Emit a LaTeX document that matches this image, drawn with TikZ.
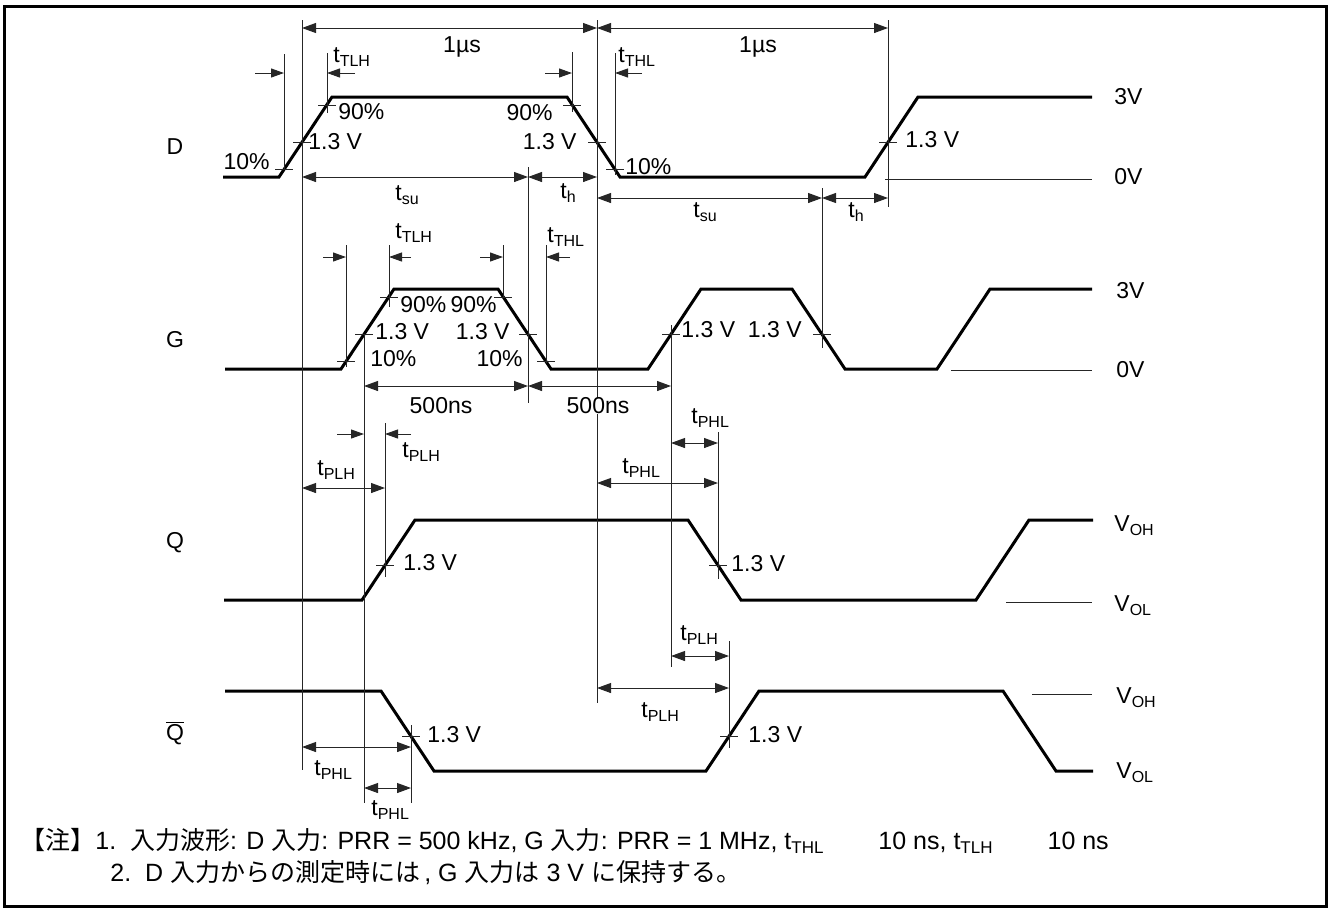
\documentclass[tikz,border=0pt]{standalone}
\usepackage{fontspec}
\setmainfont{Liberation Sans}
\newfontfamily\jp{Noto Sans CJK JP}
\usetikzlibrary{arrows.meta}
\newcommand\sbs[1]{\raisebox{-2.4pt}{\fontsize{8}{9}\selectfont #1}}
\newcommand\nsbs[1]{\raisebox{-2.4pt}{\fontsize{8.5}{9}\selectfont #1}}
\begin{document}
\begin{tikzpicture}[x=0.5pt,y=-0.5pt,
  wave/.style={line width=1.5pt,line join=miter},
  thinl/.style={line width=0.5pt,black!85},
  dimarr/.style={thinl,{Triangle[length=7pt,width=5pt]}-{Triangle[length=7pt,width=5pt]}},
  ptr/.style={thinl,-{Triangle[length=6.5pt,width=4.5pt]}},
  lbl/.style={inner sep=0pt,font=\fontsize{11.5}{13.8}\selectfont},
  note/.style={inner sep=0pt,font=\fontsize{12.5}{15}\selectfont}]
\useasboundingbox (0,0) rectangle (1331,912);
\draw[line width=1.5pt] (4.5,6) rectangle (1326.5,906);

% ---------------- waveforms
\draw[wave] (223,177) -- (279,177) -- (332,97) -- (567,97) -- (620,177) -- (865,177) -- (918,97) -- (1092,97);
\draw[wave] (225,369) -- (341,369) -- (394,289) -- (498,289) -- (551,369) -- (648,369) -- (701,289) -- (792,289) -- (845,369) -- (937,369) -- (990,289) -- (1092,289);
\draw[wave] (224,600) -- (362,600) -- (415,520) -- (688,520) -- (741,600) -- (976,600) -- (1029,520) -- (1093,520);
\draw[wave] (225,691) -- (381,691) -- (434,771) -- (706,771) -- (759,691) -- (1003,691) -- (1056,771) -- (1093,771);

% ---------------- level lines
\draw[thinl] (885,179) -- (1092,179);
\draw[thinl] (951,370) -- (1092,370);
\draw[thinl] (1006,602) -- (1092,602);
\draw[thinl] (1032,694) -- (1092,694);

% ---------------- ticks
\foreach \x/\y in {284/169,302/142,327/105,572/105,597/142,615/169,888/142,
                   346/361,364/334,389/297,503/297,528/334,546/361,671/334,822/334,
                   385/565,718/565,411/736,729/736}
  \draw[thinl] (\x-9,\y) -- (\x+9,\y);

% ---------------- vertical reference lines
\foreach \x/\a/\b in {284/54/169,327/53/113,572/52/112,615/53/175,302/20/770,597/20/703,
                      888/20/207,528/167/403,822/188/348,346/245/367,389/245/307,503/245/298,
                      546/245/363,364/334/803,671/325/667,385/423/577,718/432/579,
                      411/725/803,729/641/748}
  \draw[thinl] (\x,\a) -- (\x,\b);

% ---------------- dimension arrows
\draw[dimarr] (302,28) -- (597,28);
\draw[dimarr] (597,28) -- (888,28);
\draw[dimarr] (302,177) -- (528,177);
\draw[dimarr] (528,177) -- (597,177);
\draw[dimarr] (597,198) -- (822,198);
\draw[dimarr] (822,198) -- (888,198);
\draw[dimarr] (364,386) -- (528,386);
\draw[dimarr] (528,386) -- (671,386);
\draw[dimarr] (302,488) -- (385,488);
\draw[dimarr] (597,483) -- (718,483);
\draw[dimarr] (671,443) -- (718,443);
\draw[dimarr] (597,688) -- (729,688);
\draw[dimarr] (671,656) -- (729,656);
\draw[dimarr] (302,747) -- (411,747);
\draw[dimarr] (364,788) -- (411,788);

% ---------------- pointers
\draw[ptr] (255,73) -- (284,73);
\draw[ptr] (355,73) -- (327,73);
\draw[ptr] (545,73) -- (572,73);
\draw[ptr] (642,73) -- (615,73);
\draw[ptr] (323,257) -- (346,257);
\draw[ptr] (411,257) -- (389,257);
\draw[ptr] (480,257) -- (503,257);
\draw[ptr] (570,257) -- (546,257);
\draw[ptr] (337,434) -- (364,434);
\draw[ptr] (411,434) -- (385,434);

% ---------------- row names
\node[lbl] (nD) at (175,147) {D};
\node[lbl] (nG) at (175,340) {G};
\node[lbl] (nQ) at (175,543) {Q};
\node[lbl] (nQb) at (175,733) {$\overline{\mbox{Q}}$};

% ---------------- D labels
\node[lbl,anchor=east] (d1) at (270,162) {10\%};
\node[lbl,anchor=west] (d2) at (308,142) {1.3 V};
\node[lbl,anchor=west] (d3) at (338,112) {90\%};
\node[lbl,anchor=base west] (d4) at (333,62) {t\sbs{TLH}};
\node[lbl,anchor=base] (d5) at (462,52) {1µs};
\node[lbl,anchor=base] (d6) at (758,52) {1µs};
\node[lbl,anchor=east] (d7) at (553,113) {90\%};
\node[lbl,anchor=east] (d8) at (577,142) {1.3 V};
\node[lbl,anchor=base west] (d9) at (618,62) {t\sbs{THL}};
\node[lbl,anchor=west] (d10) at (625,167) {10\%};
\node[lbl,anchor=west] (d11) at (905,140) {1.3 V};
\node[lbl,anchor=west] (d12) at (1114,97) {3V};
\node[lbl,anchor=west] (d13) at (1114,177) {0V};
\node[lbl,anchor=base west] (d14) at (395,200) {t\sbs{su}};
\node[lbl,anchor=base west] (d15) at (560,198) {t\sbs{h}};
\node[lbl,anchor=base west] (d16) at (693,217) {t\sbs{su}};
\node[lbl,anchor=base west] (d17) at (848,217) {t\sbs{h}};

% ---------------- G labels
\node[lbl,anchor=base west] (g1) at (395,238) {t\sbs{TLH}};
\node[lbl,anchor=base west] (g2) at (547,242) {t\sbs{THL}};
\node[lbl,anchor=west] (g3) at (400,305) {90\%};
\node[lbl,anchor=east] (g4) at (497,305) {90\%};
\node[lbl,anchor=west] (g5) at (375,332) {1.3 V};
\node[lbl,anchor=east] (g6) at (510,332) {1.3 V};
\node[lbl,anchor=west] (g7) at (370,359) {10\%};
\node[lbl,anchor=east] (g8) at (523,359) {10\%};
\node[lbl] (g9) at (441,406) {500ns};
\node[lbl,fill=white,inner xsep=1pt] (g10) at (598,406) {500ns};
\node[lbl,anchor=west] (g11) at (681,330) {1.3 V};
\node[lbl,anchor=east] (g12) at (802,330) {1.3 V};
\node[lbl,anchor=west] (g13) at (1116,291) {3V};
\node[lbl,anchor=west] (g14) at (1116,370) {0V};

% ---------------- Q labels
\node[lbl,anchor=base west] (q1) at (691,423) {t\sbs{PHL}};
\node[lbl,anchor=base west] (q2) at (402,457) {t\sbs{PLH}};
\node[lbl,anchor=base west] (q3) at (317,475) {t\sbs{PLH}};
\node[lbl,anchor=base west] (q4) at (622,473) {t\sbs{PHL}};
\node[lbl,anchor=west] (q5) at (403,563) {1.3 V};
\node[lbl,anchor=west] (q6) at (731,564) {1.3 V};
\node[lbl,anchor=base west] (q7) at (1114,531) {V\sbs{OH}};
\node[lbl,anchor=base west] (q8) at (1114,611) {V\sbs{OL}};

% ---------------- Qbar labels
\node[lbl,anchor=base west] (b1) at (680,640) {t\sbs{PLH}};
\node[lbl,anchor=base west] (b2) at (641,717) {t\sbs{PLH}};
\node[lbl,anchor=west] (b3) at (427,735) {1.3 V};
\node[lbl,anchor=west] (b4) at (748,735) {1.3 V};
\node[lbl,anchor=base west] (b5) at (314,775) {t\sbs{PHL}};
\node[lbl,anchor=base west] (b6) at (371,815) {t\sbs{PHL}};
\node[lbl,anchor=base west] (b7) at (1116,703) {V\sbs{OH}};
\node[lbl,anchor=base west] (b8) at (1116,778) {V\sbs{OL}};

% ---------------- notes
\node[note,anchor=base west] (n1) at (20,849) {{\jp 【注】}1.\ \ {\jp 入力波形}: D {\jp 入力}: PRR = 500 kHz, G {\jp 入力}: PRR = 1 MHz, t\nsbs{THL}\hspace{2.2em}10 ns, t\nsbs{TLH}\hspace{2.2em}10 ns};
\node[note,anchor=base west] (n2) at (110,881) {2.\ \ D {\jp 入力からの測定時には}\,, G {\jp 入力は} 3 V {\jp に保持する。}};
\end{tikzpicture}
\end{document}
